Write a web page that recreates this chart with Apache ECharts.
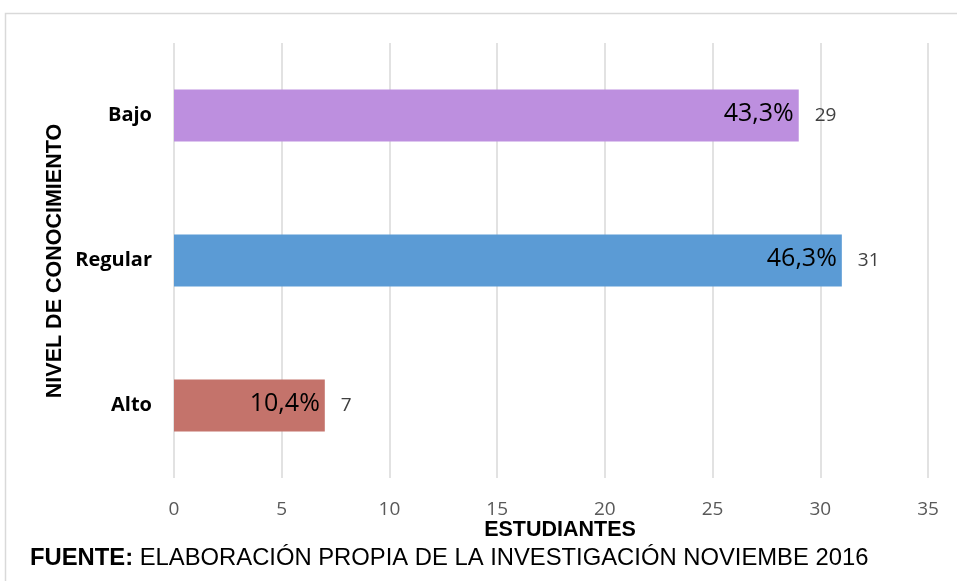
<!DOCTYPE html>
<html>
<head>
<meta charset="utf-8">
<script src="https://cdn.jsdelivr.net/npm/echarts@6/dist/echarts.min.js"></script>
<style>html,body{margin:0;padding:0;background:#fff;}#c{width:957px;height:581px;}</style>
</head>
<body>
<div id="c"></div>
<script>
const categories = ['Alto', 'Regular', 'Bajo'];
const values = [7, 31, 29];
const percents = ['10,4%', '46,3%', '43,3%'];
const colors = ['#C4736B', '#5B9BD5', '#BD8FDF'];
const xTicks = [0, 35, 5];

const chart = echarts.init(document.getElementById('c'), null, {renderer: 'canvas'});
chart.setOption({
  animation: false,
  backgroundColor: '#fff',
  grid: {left: 174, right: 29, top: 43, bottom: 103, containLabel: false},
  xAxis: {
    type: 'value', min: xTicks[0], max: xTicks[1], interval: xTicks[2],
    axisLine: {show: false}, axisTick: {show: false},
    splitLine: {lineStyle: {color: '#D9D9D9', width: 1.5}},
    axisLabel: {color: '#595959', fontSize: 19, fontFamily: 'Open Sans', margin: 22}
  },
  yAxis: {
    type: 'category', data: categories,
    axisLine: {show: false}, axisTick: {show: false},
    axisLabel: {color: '#000', fontSize: 20, fontWeight: 'bold', fontFamily: 'Open Sans', margin: 22}
  },
  series: [
    {
      type: 'bar', barWidth: 52,
      data: values.map((v, i) => ({value: v, itemStyle: {color: colors[i]}})),
      label: {
        show: true, position: 'insideRight', distance: 5, offset: [0, -2],
        formatter: p => percents[p.dataIndex],
        color: '#000', fontSize: 25, fontFamily: 'Open Sans'
      }
    },
    {
      type: 'bar', barWidth: 52, barGap: '-100%',
      data: values,
      itemStyle: {color: 'rgba(0,0,0,0)'},
      label: {
        show: true, position: 'right', distance: 16,
        color: '#404040', fontSize: 19, fontFamily: 'Open Sans'
      },
      silent: true
    }
  ],
  graphic: [
    {type: 'rect', shape: {x: 5.5, y: 13.5, width: 1000, height: 700}, style: {fill: 'none', stroke: '#D9D9D9', lineWidth: 1.5}, z: -1},
    {type: 'text', x: 560, y: 530, style: {text: 'ESTUDIANTES', fill: '#000', fontSize: 21.5, fontWeight: 'bold', fontFamily: 'Liberation Sans', textAlign: 'center', textVerticalAlign: 'middle'}},
    {type: 'text', x: 55, y: 261, rotation: Math.PI / 2, style: {text: 'NIVEL DE CONOCIMIENTO', fill: '#000', fontSize: 21.5, fontWeight: 'bold', fontFamily: 'Liberation Sans', textAlign: 'center', textVerticalAlign: 'middle'}},
    {type: 'text', x: 30, y: 558, style: {
      text: '{b|FUENTE:} ELABORACIÓN PROPIA DE LA INVESTIGACIÓN NOVIEMBE 2016',
      fill: '#000', fontSize: 23.8, fontFamily: 'Liberation Sans', textVerticalAlign: 'middle',
      rich: {b: {fontWeight: 'bold', fontSize: 23.8, fontFamily: 'Liberation Sans', fill: '#000'}}
    }}
  ]
});
</script>
</body>
</html>
